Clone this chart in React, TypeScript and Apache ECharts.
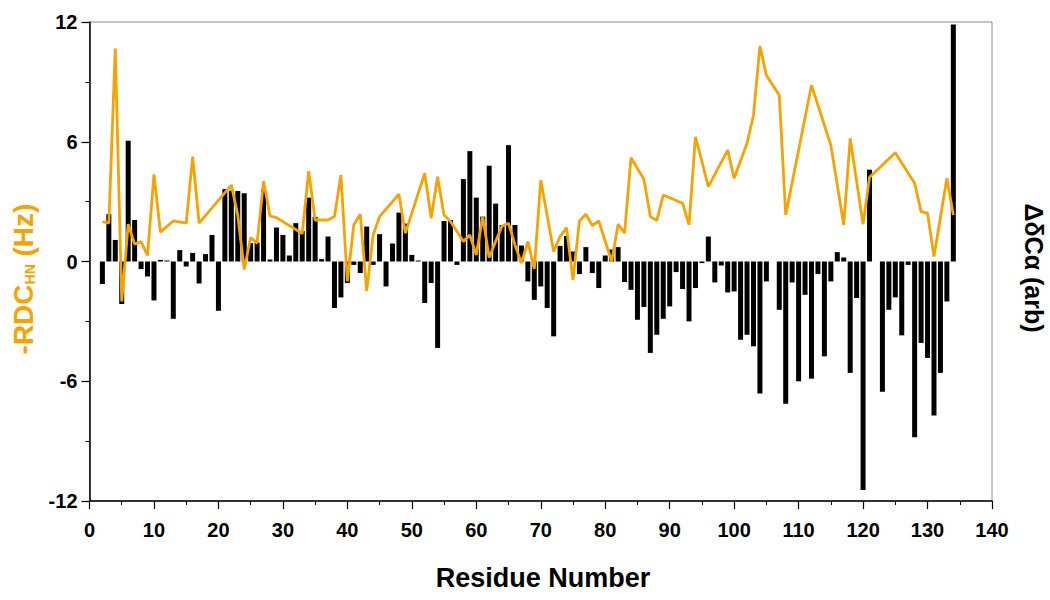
import React, { useEffect, useRef } from "react";
import * as echarts from "echarts";

const barResidues = [
  2, 3, 4, 5, 6, 7, 8, 9, 10, 11, 12, 13, 14, 15, 16, 17, 18, 19, 20, 21, 22, 23, 24, 25, 26, 27, 28, 29, 30,
  31, 32, 33, 34, 35, 36, 37, 38, 39, 40, 41, 42, 43, 44, 45, 46, 47, 48, 49, 50, 51, 52, 53, 54, 55, 56, 57,
  58, 59, 60, 61, 62, 63, 64, 65, 66, 67, 68, 69, 70, 71, 72, 73, 74, 75, 76, 77, 78, 79, 80, 81, 82, 83, 84,
  85, 86, 87, 88, 89, 90, 91, 92, 93, 94, 95, 96, 97, 98, 99, 100, 101, 102, 103, 104, 105, 107, 108, 109,
  110, 111, 112, 113, 114, 115, 116, 117, 118, 119, 120, 121, 123, 124, 125, 126, 127, 128, 129, 130, 131,
  132, 133, 134,
];
const barValues = [
  -1.13, 2.37, 1.08, -2.13, 6.05, 2.08, -0.38, -0.75, -1.95, 0.08, 0.05, -2.87, 0.57, -0.25, 0.43, -1.1, 0.37,
  1.33, -2.47, 3.63, 3.55, 3.53, 3.42, 0.92, 0.95, 3.63, 0.1, 1.7, 1.33, 0.3, 1.92, 1.53, 3.2, 2.23, 0.12, 1.25,
  -2.33, -1.8, -1.08, -0.17, -0.58, 1.75, -0.17, 1.37, -1.25, 0.9, 2.45, 1.9, 0.33, 0.05, -2.08, -1.08, -4.33,
  2.03, 2.08, -0.17, 4.13, 5.53, 3.2, 2.25, 4.8, 2.9, 1.83, 5.83, 1.83, 0.8, -1.0, -1.92, -1.25, -2.33, -3.75,
  0.78, 1.28, 0.5, -0.63, 0.72, -0.58, -1.33, 0.3, 0.6, 0.72, -1.03, -1.42, -2.92, -2.28, -4.58, -3.67, -2.87,
  -2.25, -0.53, -1.38, -3.0, -1.33, -0.08, 1.25, -1.05, -0.2, -1.55, -1.5, -3.92, -3.67, -4.25, -6.62, -1.0,
  -2.42, -7.13, -1.05, -6.0, -1.67, -5.87, -0.63, -4.75, -1.0, 0.47, 0.2, -5.58, -1.83, -11.45, 4.6, -6.53,
  -2.42, -1.8, -3.7, -0.17, -8.8, -4.08, -4.83, -7.72, -5.58, -2.0, 11.87,
];

const lineResidues = [
  2, 3, 4, 5, 6, 7, 8, 9, 10, 11, 13, 15, 16, 17, 22, 23, 24, 25, 26, 27, 28, 29, 33, 34, 35, 37, 38, 39, 40,
  41, 42, 43, 44, 45, 48, 49, 52, 53, 54, 55, 56, 58, 59, 60, 61, 62, 63, 64, 65, 66, 67, 68, 69, 70, 72, 73,
  74, 75, 76, 77, 78, 79, 81, 82, 83, 84, 86, 87, 88, 89, 92, 93, 94, 96, 99, 100, 102, 103, 104, 105, 107,
  108, 112, 115, 117, 118, 120, 121, 125, 128, 129, 130, 131, 133, 134,
];
const lineValues = [
  2.0, 1.92, 10.67, -2.0, 1.87, 0.87, 1.0, 0.3, 4.37, 1.47, 2.03, 1.92, 5.25, 1.92, 3.83, 2.33, -0.4, 1.2,
  0.92, 4.03, 2.28, 2.2, 1.4, 4.53, 2.08, 2.08, 2.25, 4.33, -1.0, 1.83, 2.37, -1.47, 1.33, 2.25, 3.37, 1.42,
  4.42, 2.17, 4.25, 2.33, 2.0, 1.0, 1.33, 0.33, 2.25, 0.2, 1.0, 1.78, 1.92, 0.83, -0.08, 1.0, -0.37, 4.08,
  0.5, 1.25, 1.7, -0.92, 2.03, 2.37, 1.8, 2.03, 0.0, 1.87, 1.42, 5.2, 4.12, 2.25, 2.05, 3.33, 2.92, 1.83,
  6.25, 3.75, 5.58, 4.17, 5.92, 7.33, 10.8, 9.33, 8.33, 2.33, 8.83, 5.83, 1.83, 6.17, 1.87, 4.22, 5.45, 3.92,
  2.5, 2.42, 0.25, 4.17, 2.33,
];

const xTitle = "Residue Number";
const leftTitleParts = ["-RDC", "HN", " (Hz)"];
const rightTitle = "ΔδCα (arb)";

const FONT = "'Liberation Sans', Arial, Helvetica, sans-serif";
const ORANGE = "#F5A300";

export default function App() {
  const ref = useRef<HTMLDivElement>(null);

  useEffect(() => {
    if (!ref.current) return;
    const chart = echarts.init(ref.current, undefined, { renderer: "svg" });
    const bars = barResidues.map((r, i) => [r, barValues[i]]);
    const line = lineResidues.map((r, i) => [r, lineValues[i]]);
    chart.setOption({
      animation: false,
      backgroundColor: "#fff",
      grid: {
        left: 89.5,
        right: 58,
        top: 22,
        bottom: 99,
        show: true,
        borderColor: "#8c8c8c",
        borderWidth: 1,
      },
      xAxis: {
        type: "value",
        min: 0,
        max: 140,
        interval: 10,
        axisLine: { show: true, onZero: false, lineStyle: { color: "#000", width: 1.5 } },
        axisTick: { show: true, length: 8, lineStyle: { color: "#000", width: 1.2 } },
        minorTick: { show: true, splitNumber: 2, length: 4, lineStyle: { color: "#000", width: 1 } },
        splitLine: { show: false },
        axisLabel: { margin: 19, fontSize: 20, fontWeight: "bold", color: "#000", fontFamily: FONT },
      },
      yAxis: {
        type: "value",
        min: -12,
        max: 12,
        interval: 6,
        axisLine: { show: true, onZero: false, lineStyle: { color: "#000", width: 1.5 } },
        axisTick: { show: true, length: 8, lineStyle: { color: "#000", width: 1.2 } },
        minorTick: { show: true, splitNumber: 2, length: 4, lineStyle: { color: "#000", width: 1 } },
        splitLine: { show: false },
        axisLabel: { margin: 12, fontSize: 20, fontWeight: "bold", color: "#000", fontFamily: FONT },
      },
      series: [
        {
          type: "bar",
          data: bars,
          barWidth: 5,
          itemStyle: { color: "#000" },
          z: 2,
        },
        {
          type: "line",
          data: line,
          symbol: "none",
          lineStyle: { color: ORANGE, width: 2.8 },
          z: 3,
        },
      ],
      graphic: [
        {
          type: "text",
          x: 543,
          y: 578,
          style: {
            text: xTitle,
            fontSize: 27,
            fontWeight: "bold",
            fontFamily: FONT,
            fill: "#000",
            align: "center",
            verticalAlign: "middle",
          },
        },
        {
          type: "text",
          x: 21,
          y: 279,
          rotation: Math.PI / 2,
          style: {
            text: `{a|${leftTitleParts[0]}}{b|${leftTitleParts[1]}}{a|${leftTitleParts[2]}}`,
            align: "center",
            verticalAlign: "middle",
            rich: {
              a: { fontSize: 28, fontWeight: "bold", fontFamily: FONT, fill: ORANGE, lineHeight: 32, verticalAlign: "bottom" },
              b: { fontSize: 14, fontWeight: "bold", fontFamily: FONT, fill: ORANGE, lineHeight: 32, verticalAlign: "bottom" },
            },
          },
        },
        {
          type: "text",
          x: 1034,
          y: 268,
          rotation: -Math.PI / 2,
          style: {
            text: rightTitle,
            fontSize: 25,
            fontWeight: "bold",
            fontFamily: FONT,
            fill: "#000",
            align: "center",
            verticalAlign: "middle",
          },
        },
      ],
    });
    return () => chart.dispose();
  }, []);

  return (
    <div
      ref={ref}
      style={{ position: "absolute", left: 0, top: 0, width: 1050, height: 600 }}
    />
  );
}
